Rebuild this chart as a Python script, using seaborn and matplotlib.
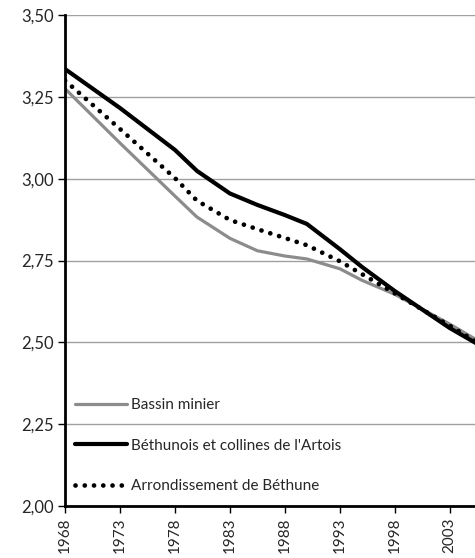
import numpy as np
import pandas as pd
import matplotlib
matplotlib.use("Agg")
import matplotlib.pyplot as plt
import seaborn as sns

# average household size
years = [1968, 1973, 1978, 1980, 1983, 1985.5, 1988, 1990, 1993, 1995, 1998, 2003, 2006]
bassin_minier = [3.275, 3.109, 2.947, 2.883, 2.818, 2.78, 2.764, 2.755, 2.725, 2.69, 2.647, 2.556, 2.497]
bethunois = [3.335, 3.216, 3.088, 3.024, 2.955, 2.92, 2.889, 2.862, 2.785, 2.731, 2.657, 2.544, 2.486]
arrondissement = [3.30, 3.152, 3.002, 2.933, 2.874, 2.846, 2.819, 2.797, 2.748, 2.709, 2.65, 2.551, 2.49]

tick_years = [1968, 1973, 1978, 1983, 1988, 1993, 1998, 2003]
y_ticks = [2.00, 2.25, 2.50, 2.75, 3.00, 3.25, 3.50]

sns.set_style("white")
plt.rcParams['font.family'] = ['Lato', 'DejaVu Sans']

fig = plt.figure(figsize=(4.75, 5.58), dpi=100)
ax = fig.add_axes([0.137, 0.093, 0.863, 0.880])

for y in y_ticks:
    ax.axhline(y, color='#a0a0a0', lw=1.0, zorder=0)

sns.lineplot(x=years, y=bassin_minier, ax=ax, color='#8c8c8c', lw=2.3,
             label='Bassin minier')
sns.lineplot(x=years, y=bethunois, ax=ax, color='black', lw=3.0,
             label="Béthunois et collines de l'Artois")
sns.lineplot(x=years, y=arrondissement, ax=ax, color='black', lw=3.4,
             linestyle=(0, (0.01, 1.95)), dash_capstyle='round',
             label='Arrondissement de Béthune')

ax.set_xlim(1968, 2005.3)
ax.set_ylim(2.0, 3.5)
ax.set_yticks(y_ticks)
ax.set_yticklabels([f"{v:.2f}".replace('.', ',') for v in y_ticks], fontsize=12)
ax.set_xticks(tick_years)
ax.set_xticklabels([str(t) for t in tick_years], rotation=90, fontsize=11)
ax.tick_params(axis='both', direction='out', length=5, width=1, color='black',
               left=True, bottom=True, pad=3)

for side in ['top', 'right']:
    ax.spines[side].set_visible(False)
for side in ['left', 'bottom']:
    ax.spines[side].set_color('black')
    ax.spines[side].set_linewidth(2)

leg = ax.legend(loc='lower left', frameon=False, fontsize=11,
                handlelength=3.4, handletextpad=0.25, labelspacing=1.75,
                borderaxespad=0.3, bbox_to_anchor=(-0.002, 0.004))

fig.savefig('out.png', dpi=100)
